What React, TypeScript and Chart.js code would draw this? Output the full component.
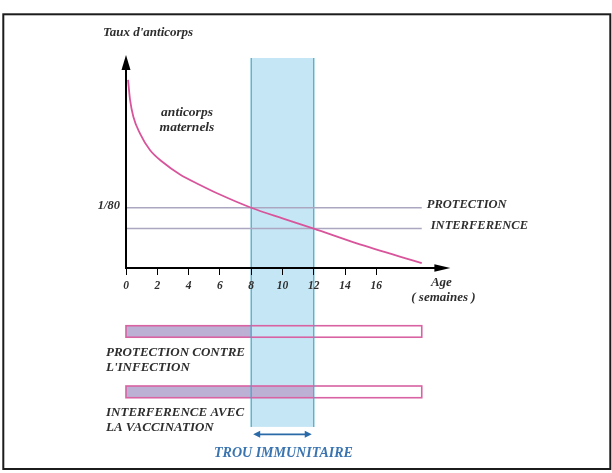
import React, { useEffect, useRef } from "react";
import { Chart, registerables } from "chart.js";

Chart.register(...registerables);

// ---- data ----
const weeks = [0.13, 0.26, 0.47, 0.89, 1.53, 2.38, 3.45, 4.73, 6.0, 8.0, 10.0, 12.0, 14.7, 18.9];
const antibodyLevel = [88.3, 78.9, 71.0, 63.2, 55.4, 49.5, 43.9, 39.0, 34.5, 28.3, 23.3, 18.5, 11.7, 2.3];
const xTicks = [0, 2, 4, 6, 8, 10, 12, 14, 16];
const thresholdNames = ["PROTECTION", "INTERFERENCE"];
const thresholdLevels = [28.3, 18.5];
const thresholdTickLabel = "1/80";
const curveEndWeek = 18.9;
const gapStartWeek = 8;
const gapEndWeek = 12;
const gapTop = 98.6;
const gapBottom = -74.6;
const barLabels = [
  ["PROTECTION CONTRE", "L'INFECTION"],
  ["INTERFERENCE AVEC", "LA VACCINATION"],
];
const barFilledTo = [8, 12];
const barTop = [-27.1, -55.4];
const barBottom = [-32.5, -60.9];
const yTitle = "Taux d'anticorps";
const curveLabel = ["anticorps", "maternels"];
const xTitle = ["Age", "( semaines )"];
const gapLabel = "TROU IMMUNITAIRE";

const Y_MIN = -75;
const Y_MAX = 100;
const X_MAX = 19.9;

const SERIF = '"Liberation Serif", "DejaVu Serif", serif';
const TEXT = "#2e2e2e";

function txt(ctx: CanvasRenderingContext2D, s: string, x: number, y: number, font: string, color: string, align: CanvasTextAlign = "left") {
  ctx.font = font;
  ctx.fillStyle = color;
  ctx.textAlign = align;
  ctx.textBaseline = "middle";
  ctx.fillText(s, x, y);
}

const deco = {
  id: "deco",
  beforeDraw(chart: any) {
    const ctx: CanvasRenderingContext2D = chart.ctx;
    const xs = chart.scales.x;
    const ys = chart.scales.y;
    ctx.save();
    ctx.fillStyle = "#ffffff";
    ctx.fillRect(0, 0, chart.width, chart.height);
    // frame
    ctx.strokeStyle = "#1c1c1c";
    ctx.lineWidth = 2;
    ctx.strokeRect(3.3, 14.3, 607, 454.7);
    // immune gap band
    const gx1 = xs.getPixelForValue(gapStartWeek);
    const gx2 = xs.getPixelForValue(gapEndWeek);
    const gy1 = ys.getPixelForValue(gapTop);
    const gy2 = ys.getPixelForValue(gapBottom);
    ctx.fillStyle = "#c5e6f5";
    ctx.fillRect(gx1, gy1, gx2 - gx1, gy2 - gy1);
    // bars
    const bx0 = xs.getPixelForValue(0);
    const bxEnd = xs.getPixelForValue(curveEndWeek);
    for (let i = 0; i < barTop.length; i++) {
      const t = ys.getPixelForValue(barTop[i]);
      const b = ys.getPixelForValue(barBottom[i]);
      const fx = xs.getPixelForValue(barFilledTo[i]);
      ctx.fillStyle = "#bcb0d4";
      ctx.fillRect(bx0, t, fx - bx0, b - t);
      ctx.strokeStyle = "#d862a2";
      ctx.lineWidth = 1.6;
      ctx.strokeRect(bx0, t, bxEnd - bx0, b - t);
    }
    // band edges
    ctx.strokeStyle = "#3fa8c6";
    ctx.lineWidth = 1.2;
    ctx.beginPath();
    ctx.moveTo(gx1, gy1);
    ctx.lineTo(gx1, gy2);
    ctx.moveTo(gx2, gy1);
    ctx.lineTo(gx2, gy2);
    ctx.stroke();
    ctx.restore();
  },
  afterDraw(chart: any) {
    const ctx: CanvasRenderingContext2D = chart.ctx;
    const xs = chart.scales.x;
    const ys = chart.scales.y;
    ctx.save();
    const ox = xs.getPixelForValue(0);
    const oy = ys.getPixelForValue(0);
    const topY = ys.getPixelForValue(Y_MAX);
    const rightX = xs.getPixelForValue(X_MAX);
    // y axis
    ctx.strokeStyle = "#000";
    ctx.fillStyle = "#000";
    ctx.lineWidth = 2;
    ctx.beginPath();
    ctx.moveTo(ox, oy + 1);
    ctx.lineTo(ox, topY + 12);
    ctx.stroke();
    ctx.beginPath();
    ctx.moveTo(ox, topY);
    ctx.lineTo(ox - 4.5, topY + 15);
    ctx.lineTo(ox + 4.5, topY + 15);
    ctx.closePath();
    ctx.fill();
    // x arrow head
    ctx.beginPath();
    ctx.moveTo(rightX + 13, oy);
    ctx.lineTo(rightX - 3, oy - 3.8);
    ctx.lineTo(rightX - 3, oy + 3.8);
    ctx.closePath();
    ctx.fill();

    const bi = (s: number) => `italic bold ${s}px ${SERIF}`;
    // titles
    txt(ctx, yTitle, 103, 33, bi(13), TEXT);
    txt(ctx, curveLabel[0], 187, 112.5, bi(13.5), TEXT, "center");
    txt(ctx, curveLabel[1], 187, 127.5, bi(13.5), TEXT, "center");
    txt(ctx, xTitle[0], rightX + 4, 283, bi(13), TEXT, "center");
    txt(ctx, xTitle[1], rightX + 6, 298, bi(13), TEXT, "center");
    // thresholds
    const pY = ys.getPixelForValue(thresholdLevels[0]);
    const iY = ys.getPixelForValue(thresholdLevels[1]);
    txt(ctx, thresholdTickLabel, ox - 6, pY - 2, bi(12.5), TEXT, "right");
    const ex = xs.getPixelForValue(curveEndWeek);
    txt(ctx, thresholdNames[0], ex + 5, pY - 2.5, bi(12.5), TEXT);
    txt(ctx, thresholdNames[1], ex + 9, iY - 2.5, bi(12.5), TEXT);
    // bar labels
    for (let i = 0; i < barLabels.length; i++) {
      const b = ys.getPixelForValue(barBottom[i]);
      txt(ctx, barLabels[i][0], 106, b + 15, bi(13), TEXT);
      txt(ctx, barLabels[i][1], 106, b + 30, bi(13), TEXT);
    }
    // double arrow
    const gx1 = xs.getPixelForValue(gapStartWeek) + 2;
    const gx2 = xs.getPixelForValue(gapEndWeek) - 2;
    const ay = 434.3;
    ctx.strokeStyle = "#2a6aa8";
    ctx.fillStyle = "#2a6aa8";
    ctx.lineWidth = 1.8;
    ctx.beginPath();
    ctx.moveTo(gx1 + 4, ay);
    ctx.lineTo(gx2 - 4, ay);
    ctx.stroke();
    ctx.beginPath();
    ctx.moveTo(gx1, ay);
    ctx.lineTo(gx1 + 7, ay - 3.5);
    ctx.lineTo(gx1 + 7, ay + 3.5);
    ctx.closePath();
    ctx.fill();
    ctx.beginPath();
    ctx.moveTo(gx2, ay);
    ctx.lineTo(gx2 - 7, ay - 3.5);
    ctx.lineTo(gx2 - 7, ay + 3.5);
    ctx.closePath();
    ctx.fill();
    txt(ctx, gapLabel, (gx1 + gx2) / 2 + 1, 453, bi(14), "#3a74b0", "center");
    ctx.restore();
  },
};

export default function App() {
  const ref = useRef<HTMLCanvasElement | null>(null);
  useEffect(() => {
    document.body.style.margin = "0";
    const canvas = ref.current;
    if (!canvas) return;
    const chart = new Chart(canvas, {
      type: "scatter",
      data: {
        datasets: [
          {
            data: weeks.map((w, i) => ({ x: w, y: antibodyLevel[i] })),
            showLine: true,
            borderColor: "#d9559b",
            borderWidth: 1.8,
            pointRadius: 0,
            cubicInterpolationMode: "monotone",
            fill: false,
          } as any,
          ...thresholdLevels.map((l) => ({
            data: [
              { x: 0, y: l },
              { x: curveEndWeek, y: l },
            ],
            showLine: true,
            borderColor: "#aca7c1",
            borderWidth: 1.5,
            pointRadius: 0,
            fill: false,
          })),
        ],
      },
      options: {
        responsive: false,
        animation: false,
        devicePixelRatio: 1,
        events: [],
        layout: { padding: { left: 126, top: 55, right: 612 - 437.4, bottom: 473 - 427.75 } },
        plugins: { legend: { display: false }, tooltip: { enabled: false } },
        scales: {
          x: {
            type: "linear",
            min: 0,
            max: X_MAX,
            position: { y: 0 } as any,
            afterBuildTicks: (s: any) => {
              s.ticks = xTicks.map((v) => ({ value: v }));
            },
            ticks: {
              autoSkip: false,
              maxRotation: 0,
              padding: 5,
              color: TEXT,
              font: { family: SERIF, style: "italic", weight: "bold", size: 11.5 },
            },
            grid: { display: true, drawOnChartArea: false, drawTicks: true, tickLength: 6, color: "#000", lineWidth: 1 },
            border: { display: true, color: "#000", width: 2 },
          },
          y: { type: "linear", min: Y_MIN, max: Y_MAX, display: false },
        },
      },
      plugins: [deco],
    });
    return () => chart.destroy();
  }, []);
  return <canvas ref={ref} width={612} height={473} style={{ display: "block" }} />;
}
